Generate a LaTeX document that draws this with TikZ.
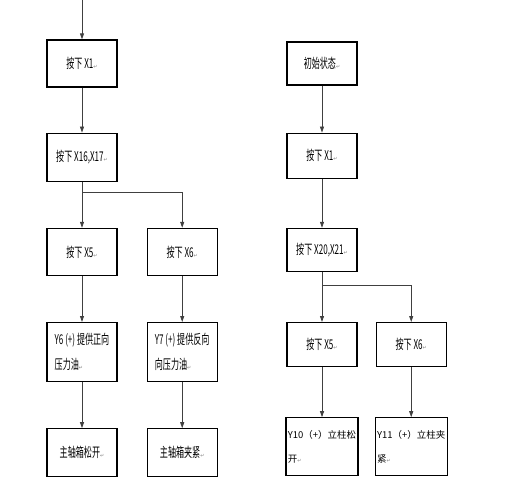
\documentclass[tikz,border=0pt]{standalone}
\usepackage{fontspec}
\usepackage{xcolor}
\usepackage{tikz}
\usetikzlibrary{arrows.meta, positioning, calc}
\newfontfamily\cjk[FakeStretch=0.6]{Noto Sans CJK SC}
\newfontfamily\cjkwide{Noto Sans CJK SC}
\newfontfamily\symfont{DejaVu Sans}
\newcommand{\pmark}{{\symfont\color{gray}\fontsize{5}{5}\selectfont ↵}}
\tikzset{
  stepbox/.style={rectangle, minimum width=70bp, draw=black, line width=1.2bp, text centered, font=\cjk\fontsize{13.5}{25}\selectfont, inner sep=2bp},
  outbox/.style={stepbox, align=left},
  widebox/.style={stepbox, align=left, font=\cjkwide\fontsize{9.5}{25}\selectfont},
  arrow/.style={draw=black!75, line width=0.8bp, -{Triangle[length=6bp,width=4bp]}},
  line/.style={draw=black!75, line width=0.8bp}
}

\begin{document}
\begin{tikzpicture}[x=1bp, y=-1bp]
\useasboundingbox (0,0) rectangle (517,492);
% left column: spindle box
\coordinate (top) at (82,0);
\node[stepbox, minimum height=47bp] (a1) at (82,63.5) {按下 X1\pmark};
\node[stepbox, minimum height=48bp, below=45bp of a1] (a2) {按下 X16,X17\pmark};
\node[stepbox, minimum height=47bp, below=46bp of a2] (a3) {按下 X5\pmark};
\node[stepbox, minimum height=47bp, right=29bp of a3] (a4) {按下 X6\pmark};
\node[outbox, minimum height=59bp, below=46bp of a3] (a5) {Y6 (+) 提供正向\\压力油\pmark};
\node[outbox, minimum height=59bp, below=46bp of a4] (a6) {Y7 (+) 提供反向\\向压力油\pmark};
\node[stepbox, minimum height=48bp, below=46bp of a5] (a7) {主轴箱松开\pmark};
\node[stepbox, minimum height=48bp, below=46bp of a6] (a8) {主轴箱夹紧\pmark};

\coordinate (j1) at ($(a2.south)+(0,11)$);
\draw[arrow] (top) -- (a1);
\draw[arrow] (a1) -- (a2);
\draw[arrow] (a2) -- (a3);
\draw[arrow] (j1) -| (a4);
\draw[arrow] (a3) -- (a5);
\draw[arrow] (a4) -- (a6);
\draw[arrow] (a5) -- (a7);
\draw[arrow] (a6) -- (a8);

% right column: column clamp
\node[stepbox, minimum height=43bp] (b1) at (322,63.5) {初始状态\pmark};
\node[stepbox, minimum height=45bp, below=47bp of b1] (b2) {按下 X1\pmark};
\node[stepbox, minimum height=43bp, below=49bp of b2] (b3) {按下 X20,X21\pmark};
\node[stepbox, minimum height=44bp, below=50bp of b3] (b4) {按下 X5\pmark};
\node[stepbox, minimum height=44bp, right=18bp of b4] (b5) {按下 X6\pmark};
\node[widebox, minimum height=58bp, below=50bp of b4] (b6) {Y10（+）立柱松\\开\pmark};
\node[widebox, minimum height=58bp, below=50bp of b5] (b7) {Y11（+）立柱夹\\紧\pmark};

\coordinate (j2) at ($(b3.south)+(0,13)$);
\draw[arrow] (b1) -- (b2);
\draw[arrow] (b2) -- (b3);
\draw[arrow] (b3) -- (b4);
\draw[arrow] (j2) -| (b5);
\draw[arrow] (b4) -- (b6);
\draw[arrow] (b5) -- (b7);
\end{tikzpicture}
\end{document}
